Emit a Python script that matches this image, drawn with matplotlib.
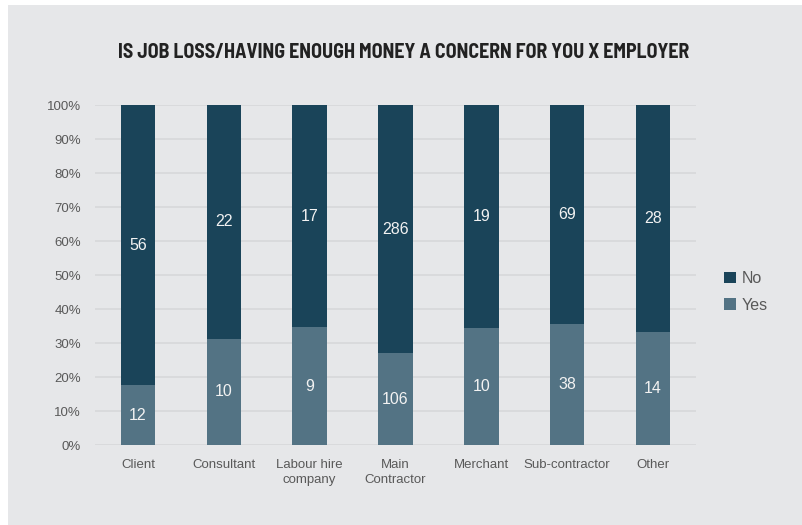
import numpy as np
import matplotlib.pyplot as plt
from matplotlib.patches import Rectangle

categories = ["Client", "Consultant", "Labour hire\ncompany", "Main\nContractor",
              "Merchant", "Sub-contractor", "Other"]
yes_counts = [12, 10, 9, 106, 10, 38, 14]
no_counts = [56, 22, 17, 286, 19, 69, 28]

bg = "#e6e7e9"
col_no = "#1a4459"
col_yes = "#537384"

yes = np.array(yes_counts, dtype=float)
no = np.array(no_counts, dtype=float)
total = yes + no
yes_pct = yes / total * 100
no_pct = no / total * 100

fig = plt.figure(figsize=(8.02, 5.25), dpi=100, facecolor="white")
fig.patches.append(Rectangle((8 / 802, 0), 1, 520 / 525, transform=fig.transFigure,
                             facecolor=bg, edgecolor="none", zorder=-10))

ax = fig.add_axes([95 / 802, 80 / 525, 601 / 802, 340 / 525])
ax.set_facecolor(bg)
x = np.arange(len(categories))
b_yes = ax.bar(x, yes_pct, width=0.4, color=col_yes, label="Yes", zorder=3)
b_no = ax.bar(x, no_pct, width=0.4, bottom=yes_pct, color=col_no, label="No", zorder=3)

for i in range(len(categories)):
    ax.text(x[i], yes_pct[i] / 2, f"{yes_counts[i]}", ha="center", va="center",
            color="#f2f2f2", fontsize=11.5, family="Liberation Sans", zorder=4)
    ax.text(x[i], yes_pct[i] + no_pct[i] / 2, f"{no_counts[i]}", ha="center", va="center",
            color="#f2f2f2", fontsize=11.5, family="Liberation Sans", zorder=4)

ax.set_xlim(-0.5, len(categories) - 0.5)
ax.set_ylim(0, 100)
ax.set_yticks(np.arange(0, 101, 10))
ax.set_yticklabels([f"{v}%" for v in range(0, 101, 10)])
ax.set_xticks(x)
ax.set_xticklabels(categories)
ax.grid(axis="y", color="#d8d9db", linewidth=1.3, zorder=0)
ax.tick_params(length=0, colors="#595959", labelsize=9.5, pad=10)
for lbl in ax.get_xticklabels() + ax.get_yticklabels():
    lbl.set_family("Liberation Sans")
    lbl.set_linespacing(1.3)
for s in ax.spines.values():
    s.set_visible(False)

fig.text(404 / 802, 1 - 52 / 525, "IS JOB LOSS/HAVING ENOUGH MONEY A CONCERN FOR YOU X EMPLOYER",
         ha="center", va="center", fontsize=14.4, fontweight="bold",
         family=["Barlow Semi Condensed", "DejaVu Sans"], color="#222222")

handles = [b_no, b_yes]
leg = fig.legend(handles, ["No", "Yes"], loc="center left",
                 bbox_to_anchor=(710 / 802, 1 - 292 / 525), frameon=False,
                 handlelength=0.7, handleheight=0.7, handletextpad=0.4,
                 labelspacing=0.7, prop={"family": "Liberation Sans", "size": 11.5})
for t in leg.get_texts():
    t.set_color("#595959")

fig.savefig("out.png", dpi=100, facecolor=fig.get_facecolor())
